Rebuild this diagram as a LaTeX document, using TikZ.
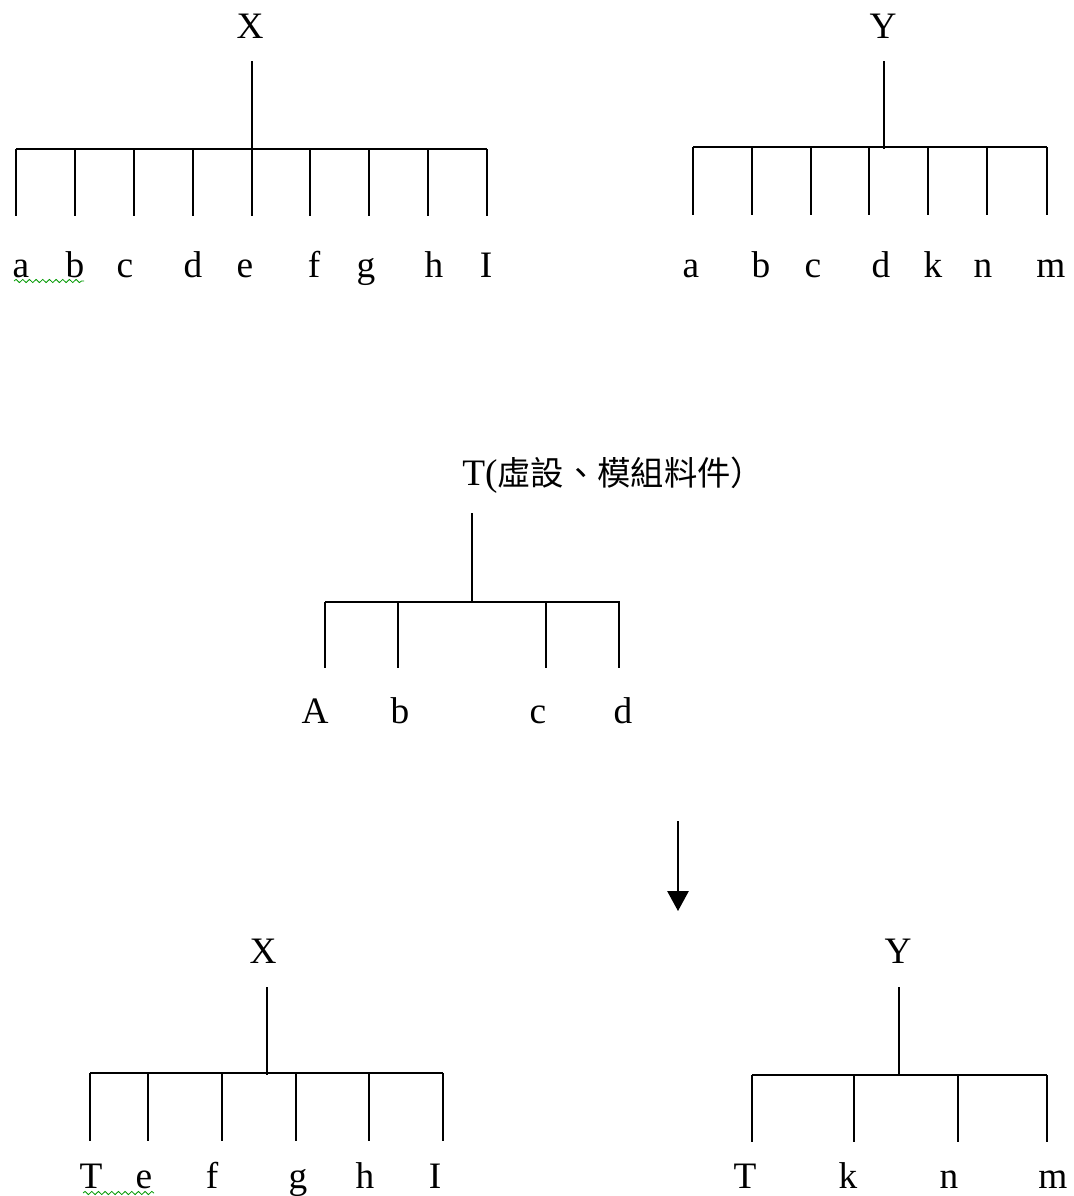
\documentclass[tikz,border=0pt]{standalone}
\usepackage{fontspec}
\setmainfont{Liberation Serif}
\newfontfamily\cjk{Noto Sans CJK TC}
\usetikzlibrary{arrows.meta,decorations.pathmorphing}

\tikzset{
  lbl/.style={inner sep=0pt, anchor=base, font=\fontsize{28}{28}\selectfont},
  wire/.style={line width=1.3pt},
  spell/.style={green!60!black, line width=0.6pt, decorate,
    decoration={snake, amplitude=1.2pt, segment length=5pt}},
}

\begin{document}
\begin{tikzpicture}[x=0.75pt,y=-0.75pt,>={Triangle[length=15pt,width=16pt]}]
  \useasboundingbox (0,0) rectangle (1074,1196);

  % top left: X
  \node[lbl] (xa) at (250,38) {X};
  \coordinate (xa-top) at (252,61);
  \coordinate (xa-mid) at (252,149);
  \coordinate (xa-l) at (16,149);
  \coordinate (xa-r) at (487,149);
  \draw[wire] (xa-top) -- (xa-mid);
  \draw[wire] (xa-l) -- (xa-r);
  \foreach \x/\lx/\lab [count=\i] in {16/21/a,75/75/b,134/125/c,193/193/d,252/245/e,
                                      310/314/f,369/366/g,428/434/h,487/486/I} {
    \coordinate (xa-b\i) at (\x,149);
    \coordinate (xa-e\i) at (\x,216);
    \draw[wire] (xa-b\i) -- (xa-e\i);
    \node[lbl] (xa-n\i) at (\lx,277) {\lab};
  }
  \coordinate (sq1-l) at (14,281);
  \coordinate (sq1-r) at (84,281);
  \draw[spell] (sq1-l) -- (sq1-r);

  % top right: Y
  \node[lbl] (ya) at (883,38) {Y};
  \coordinate (ya-top) at (884,61);
  \coordinate (ya-mid) at (884,149);
  \coordinate (ya-l) at (693,147);
  \coordinate (ya-r) at (1047,147);
  \draw[wire] (ya-top) -- (ya-mid);
  \draw[wire] (ya-l) -- (ya-r);
  \foreach \x/\lx/\lab [count=\i] in {693/691/a,752/761/b,811/813/c,869/881/d,
                                      928/933/k,987/983/n,1047/1051/m} {
    \coordinate (ya-b\i) at (\x,147);
    \coordinate (ya-e\i) at (\x,215);
    \draw[wire] (ya-b\i) -- (ya-e\i);
    \node[lbl] (ya-n\i) at (\lx,277) {\lab};
  }

  % middle: T
  \node[lbl, anchor=base west] (tt) at (462,485)
    {T(\cjk\fontsize{25}{25}\selectfont 虛設、模組料件）};
  \coordinate (tt-top) at (472,513);
  \coordinate (tt-mid) at (472,602);
  \coordinate (tt-l) at (325,602);
  \coordinate (tt-r) at (620,602);
  \draw[wire] (tt-top) -- (tt-mid);
  \draw[wire] (tt-l) -- (tt-r);
  \foreach \x/\lx/\lab [count=\i] in {325/315/A,398/400/b,546/538/c,619/623/d} {
    \coordinate (tt-b\i) at (\x,602);
    \coordinate (tt-e\i) at (\x,668);
    \draw[wire] (tt-b\i) -- (tt-e\i);
    \node[lbl] (tt-n\i) at (\lx,723) {\lab};
  }

  % arrow
  \coordinate (arr-s) at (678,821);
  \coordinate (arr-e) at (678,911);
  \draw[wire,->] (arr-s) -- (arr-e);

  % bottom left: X
  \node[lbl] (xb) at (263,963) {X};
  \coordinate (xb-top) at (267,987);
  \coordinate (xb-mid) at (267,1075);
  \coordinate (xb-l) at (90,1073);
  \coordinate (xb-r) at (443,1073);
  \draw[wire] (xb-top) -- (xb-mid);
  \draw[wire] (xb-l) -- (xb-r);
  \foreach \x/\lx/\lab [count=\i] in {90/91/T,148/144/e,222/212/f,296/298/g,
                                      369/365/h,443/435/I} {
    \coordinate (xb-b\i) at (\x,1073);
    \coordinate (xb-e\i) at (\x,1141);
    \draw[wire] (xb-b\i) -- (xb-e\i);
    \node[lbl] (xb-n\i) at (\lx,1188) {\lab};
  }
  \coordinate (sq2-l) at (83,1193);
  \coordinate (sq2-r) at (154,1193);
  \draw[spell] (sq2-l) -- (sq2-r);

  % bottom right: Y
  \node[lbl] (yb) at (898,963) {Y};
  \coordinate (yb-top) at (899,987);
  \coordinate (yb-mid) at (899,1075);
  \coordinate (yb-l) at (752,1075);
  \coordinate (yb-r) at (1047,1075);
  \draw[wire] (yb-top) -- (yb-mid);
  \draw[wire] (yb-l) -- (yb-r);
  \foreach \x/\lx/\lab [count=\i] in {752/745/T,854/848/k,958/949/n,1047/1053/m} {
    \coordinate (yb-b\i) at (\x,1075);
    \coordinate (yb-e\i) at (\x,1142);
    \draw[wire] (yb-b\i) -- (yb-e\i);
    \node[lbl] (yb-n\i) at (\lx,1188) {\lab};
  }
\end{tikzpicture}
\end{document}
